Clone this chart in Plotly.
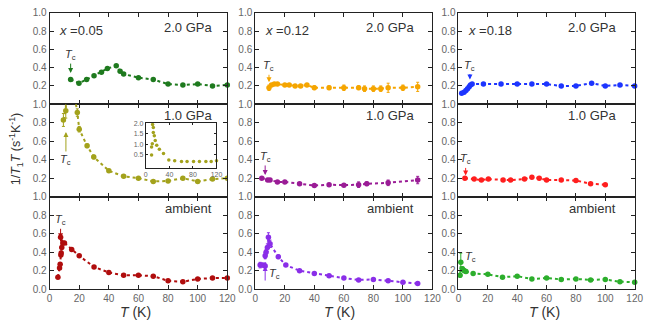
import plotly.graph_objects as go

W, H = 652, 325

# ---------------- data ----------------
# column x=0.05
t_005_20 = [14.2, 19.8, 25, 30, 35, 39, 45, 47.6, 50, 60, 70, 80, 90, 100, 110, 120]
v_005_20 = [0.27, 0.23, 0.27, 0.31, 0.35, 0.39, 0.42, 0.36, 0.33, 0.29, 0.27, 0.22, 0.21, 0.22, 0.20, 0.21]
t_005_10 = [9.3, 10.9, 12.5, 13.5, 14.5, 16, 18.7, 20, 25.3, 29.8, 40, 50, 60, 70, 80, 90, 100, 110, 120]
v_005_10 = [0.83, 0.93, 1.95, 1.7, 1.4, 1.17, 0.91, 0.73, 0.55, 0.43, 0.28, 0.22, 0.20, 0.165, 0.17, 0.20, 0.165, 0.19, 0.20]
e_005_10 = [0.07, 0.08, 0.1, 0.1, 0.08, 0.05, 0.04, 0.03, 0.02, 0.02, 0.01, 0.01, 0.01, 0.01, 0.01, 0.01, 0.01, 0.01, 0.01]
t_005_amb = [5.6, 6.7, 7.1, 7.6, 7.8, 8.2, 7.4, 8.9, 10, 14.9, 20, 30, 40, 50, 60, 70, 80, 90, 100, 110, 120]
v_005_amb = [0.13, 0.23, 0.27, 0.37, 0.39, 0.45, 0.56, 0.50, 0.50, 0.43, 0.36, 0.24, 0.18, 0.15, 0.15, 0.14, 0.09, 0.08, 0.11, 0.12, 0.12]
# inset (x=0.05, 1.0 GPa, full scale)
t_inset = [9.8, 9.8, 11, 11.5, 12.7, 12.7, 14.4, 16, 18.5, 23, 30, 39, 49, 60.6, 70, 81, 91, 102, 111, 120]
v_inset = [0.47, 0.86, 1.02, 1.95, 1.8, 1.56, 1.4, 1.17, 0.94, 0.75, 0.55, 0.23, 0.19, 0.16, 0.16, 0.16, 0.16, 0.16, 0.16, 0.19]

# column x=0.12
t_012_20 = [9.3, 11, 12.9, 15, 20, 23, 27, 30.7, 35, 40, 50, 60, 70, 74, 80, 85, 90, 100, 110]
v_012_20 = [0.18, 0.21, 0.22, 0.22, 0.21, 0.21, 0.20, 0.20, 0.21, 0.18, 0.18, 0.18, 0.18, 0.17, 0.17, 0.17, 0.18, 0.18, 0.19]
e_012_20 = [0.03, 0.01, 0.01, 0.01, 0.01, 0.01, 0.01, 0.01, 0.01, 0.02, 0.02, 0.03, 0.02, 0.03, 0.03, 0.03, 0.05, 0.03, 0.05]
t_012_10 = [4.4, 8.4, 10, 15, 20, 30, 40, 50, 60, 70, 75.5, 90, 110]
v_012_10 = [0.20, 0.18, 0.18, 0.16, 0.16, 0.14, 0.12, 0.13, 0.125, 0.13, 0.14, 0.15, 0.18]
e_012_10 = [0.01, 0.01, 0.01, 0.01, 0.01, 0.01, 0.01, 0.01, 0.01, 0.03, 0.02, 0.03, 0.04]
t_012_amb = [3.3, 4.9, 6.7, 6.7, 7.3, 8.2, 8.9, 10, 15.6, 20.7, 30, 40, 50, 60, 70, 80, 90, 100, 110]
v_012_amb = [0.26, 0.26, 0.25, 0.36, 0.40, 0.45, 0.56, 0.49, 0.35, 0.26, 0.20, 0.17, 0.145, 0.12, 0.10, 0.105, 0.09, 0.075, 0.06]
e_012_amb = [0.03, 0.02, 0.02, 0.03, 0.03, 0.04, 0.05, 0.04, 0.02, 0.01, 0.01, 0.01, 0.01, 0.01, 0.01, 0.01, 0.01, 0.01, 0.01]

# column x=0.18
t_018_20 = [2.2, 3.8, 5.1, 6.2, 7.3, 8.2, 9.3, 17, 29, 40, 50, 60, 70, 80, 90.7, 100, 110, 120]
v_018_20 = [0.12, 0.13, 0.15, 0.17, 0.19, 0.21, 0.22, 0.22, 0.22, 0.22, 0.22, 0.22, 0.20, 0.20, 0.23, 0.20, 0.21, 0.20]
t_018_10 = [4.4, 10.7, 15.6, 20.4, 30.4, 35.5, 45, 50, 55, 60, 70, 80, 90, 100]
v_018_10 = [0.20, 0.19, 0.18, 0.19, 0.18, 0.18, 0.19, 0.21, 0.20, 0.18, 0.18, 0.175, 0.14, 0.13]
t_018_amb = [1.1, 1.6, 2.7, 4, 5.1, 10, 20, 30, 40, 50, 60, 70, 80, 90, 100, 110, 120]
v_018_amb = [0.15, 0.29, 0.22, 0.20, 0.19, 0.17, 0.16, 0.13, 0.14, 0.11, 0.12, 0.105, 0.11, 0.10, 0.105, 0.08, 0.075]
e_018_amb = [0.02, 0.1, 0.02, 0.02, 0.02, 0.01, 0.01, 0.01, 0.01, 0.01, 0.01, 0.01, 0.01, 0.01, 0.01, 0.01, 0.01]

compositions = ["0.05", "0.12", "0.18"]
pressures = ["2.0 GPa", "1.0 GPa", "ambient"]
x_ticks = [0, 20, 40, 60, 80, 100, 120]
y_ticks_full = [0.0, 0.2, 0.4, 0.6, 0.8, 1.0]
y_ticks_upper = [0.2, 0.4, 0.6, 0.8, 1.0]

# panels: (row, col, T, v, err, color, Tc-arrow tip (T,v), arrow tail offset px)
panels = [
    (0, 0, t_005_20, v_005_20, None, "#1e7a1e", (14.2, 0.34), -18),
    (1, 0, t_005_10, v_005_10, e_005_10, "#a3a21c", (11.0, 0.70), 28),
    (2, 0, t_005_amb, v_005_amb, None, "#b00d0d", (7.4, 0.55), -18),
    (0, 1, t_012_20, v_012_20, e_012_20, "#f5a500", (9.3, 0.24), -16),
    (1, 1, t_012_10, v_012_10, e_012_10, "#9a1c96", (6.7, 0.235), -18),
    (2, 1, t_012_amb, v_012_amb, e_012_amb, "#8a2ee8", (6.7, 0.25), None),
    (0, 2, t_018_20, v_018_20, None, "#1d35ff", (7.8, 0.27), -14),
    (1, 2, t_018_10, v_018_10, None, "#ff1e1e", (4.9, 0.23), -16),
    (2, 2, t_018_amb, v_018_amb, e_018_amb, "#2cae2c", None, None),
]

# ---------------- geometry (pixels) ----------------
col_px = [(47.5, 228.5), (257, 437.5), (464, 643.5)]
row_px = [(7, 102), (102, 198), (198, 294)]
label_dy = [15, 12, 12]
title_x = [135, 343, 552]


def px_x(p):
    return p / W


def px_y(p):
    return 1 - p / H


fig = go.Figure()
layout = dict(
    width=W, height=H, margin=dict(l=0, r=0, t=0, b=0),
    paper_bgcolor="white", plot_bgcolor="white", showlegend=False,
    font=dict(family="Liberation Sans, Arial, sans-serif", color="#555"),
)
annotations = []

axis_common = dict(
    showline=True, linecolor="#222", linewidth=1, mirror="ticks",
    ticks="inside", ticklen=4, tickcolor="#222", showgrid=False, zeroline=False,
    tickfont=dict(size=10, color="#666", family="Liberation Sans, Arial, sans-serif"),
)

for (r, c, T, V, E, color, tip, ay) in panels:
    n = r * 3 + c + 1
    xs = "" if n == 1 else str(n)
    x0, x1 = col_px[c]
    y0, y1 = row_px[r]
    layout["xaxis" + xs] = dict(
        axis_common, domain=[px_x(x0), px_x(x1)], range=[0, 120], anchor="y" + xs,
        tickvals=x_ticks, showticklabels=(r == 2),
    )
    layout["yaxis" + xs] = dict(
        axis_common, domain=[px_y(y1), px_y(y0)], range=[0, 1], anchor="x" + xs,
        tickvals=(y_ticks_full if r == 2 else y_ticks_upper), tickformat=".1f",
    )
    clip = (r == 1 and c == 0)
    tr = dict(
        x=T, y=V, mode="lines+markers", xaxis="x" + xs, yaxis="y" + xs,
        line=dict(color=color, width=2, dash="dot"),
        marker=dict(color=color, size=5.5),
        cliponaxis=clip,
    )
    if E is not None:
        tr["error_y"] = dict(type="data", array=E, color=color, thickness=1, width=1.5)
    fig.add_trace(go.Scatter(**tr))

    # pressure label
    annotations.append(dict(
        text=pressures[r], xref="paper", yref="paper",
        x=px_x(x1 - 17 + (3 if c == 0 else 0)), y=px_y(y0 + label_dy[r]),
        xanchor="right", yanchor="middle", showarrow=False,
        font=dict(size=13, color="#333"),
    ))
    if r == 0:
        annotations.append(dict(
            text="<i>x</i> =" + compositions[c], xref="paper", yref="paper",
            x=px_x(x0 + 8), y=px_y(y0 + 18), xanchor="left", yanchor="middle",
            showarrow=False, font=dict(size=13, color="#333"),
        ))
    # Tc arrows
    if tip is not None and ay is not None:
        annotations.append(dict(
            text="<i>T</i><sub>c</sub>", x=tip[0], y=tip[1], xref="x" + xs, yref="y" + xs,
            showarrow=True, ax=0, ay=ay, arrowhead=2, arrowsize=1, arrowwidth=1,
            arrowcolor=color, standoff=0, font=dict(size=11, color="#333"),
        ))
    if r == 2 and c == 1:
        annotations.append(dict(
            text="", x=tip[0], y=tip[1], xref="x" + xs, yref="y" + xs,
            showarrow=True, ax=0, ay=16, arrowhead=2, arrowsize=1, arrowwidth=1,
            arrowcolor=color, standoff=0,
        ))
        annotations.append(dict(
            text="<i>T</i><sub>c</sub>", x=13, y=0.16, xref="x" + xs, yref="y" + xs,
            showarrow=False, font=dict(size=11, color="#333"),
        ))
    if r == 2 and c == 2:
        annotations.append(dict(
            text="<i>T</i><sub>c</sub>", x=8.5, y=0.35, xref="x" + xs, yref="y" + xs,
            showarrow=False, font=dict(size=11, color="#333"),
        ))
    if r == 2:
        annotations.append(dict(
            text="<i>T</i> (K)", xref="paper", yref="paper",
            x=px_x(title_x[c]), y=px_y(318), xanchor="center", yanchor="middle",
            showarrow=False, font=dict(size=14, color="#333"),
        ))

# inset
layout["xaxis10"] = dict(
    axis_common, domain=[px_x(145.5), px_x(217.5)], range=[0, 120], anchor="y10",
    tickvals=[0, 40, 80, 120], ticklen=2,
    tickfont=dict(size=7, color="#666", family="Liberation Sans, Arial, sans-serif"),
)
layout["yaxis10"] = dict(
    axis_common, domain=[px_y(168), px_y(122)], range=[-0.15, 2.0], anchor="x10",
    tickvals=[0.5, 1.0, 1.5, 2.0], tickformat=".1f", ticklen=2,
    tickfont=dict(size=7, color="#666", family="Liberation Sans, Arial, sans-serif"),
)
fig.add_trace(go.Scatter(
    x=t_inset, y=v_inset, mode="markers", xaxis="x10", yaxis="y10",
    marker=dict(color="#a3a21c", size=3.5), cliponaxis=False,
))

# y-axis title
annotations.append(dict(
    text="1/<i>T</i><sub>1</sub><i>T</i> (s<sup>-1</sup>K<sup>-1</sup>)",
    xref="paper", yref="paper", x=px_x(13), y=px_y(148), textangle=-90,
    xanchor="center", yanchor="middle", showarrow=False,
    font=dict(size=12.5, color="#333"),
))

layout["annotations"] = annotations
fig.update_layout(**layout)
fig.write_html("out.html")
